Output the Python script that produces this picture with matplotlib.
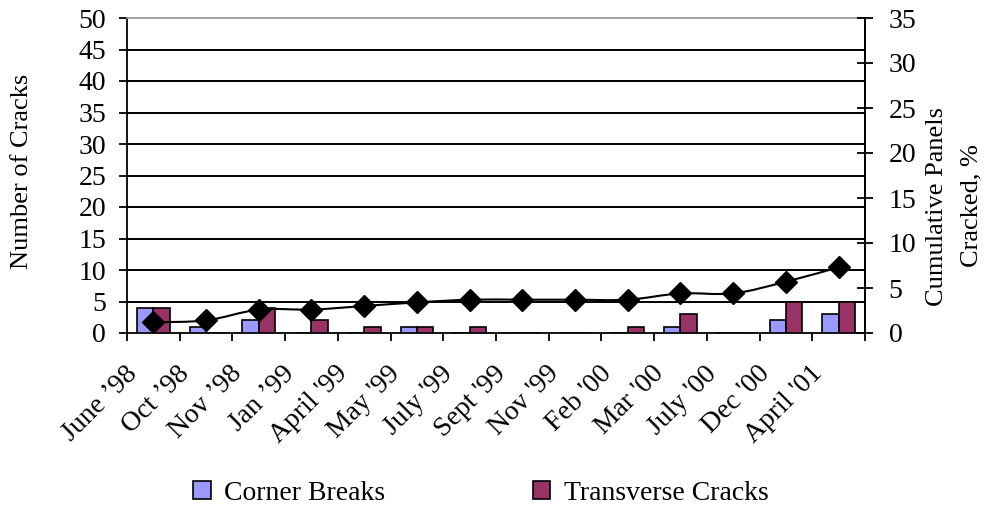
import matplotlib
matplotlib.use("Agg")
import matplotlib.pyplot as plt
import matplotlib.transforms as mtransforms
import numpy as np
from matplotlib.path import Path
from matplotlib.patches import PathPatch

plt.rcParams['font.family'] = ['Liberation Serif', 'DejaVu Serif']

months = ["June \u201998", "Oct \u201998", "Nov \u201998", "Jan \u201999", "April '99", "May '99",
          "July '99", "Sept '99", "Nov '99", "Feb '00", "Mar '00", "July '00", "Dec '00",
          "April '01"]
corner_breaks = [4, 1, 2, 0, 0, 1, 0, 0, 0, 0, 1, 0, 2, 3]
transverse_cracks = [4, 0, 4, 2, 1, 1, 1, 0, 0, 1, 3, 0, 5, 5]
cum_cracked_pct = [1.2, 1.4, 2.6, 2.6, 3.0, 3.4, 3.7, 3.7, 3.7, 3.7, 4.4, 4.4, 5.7, 7.3]

FS = 20
FS_LAB = 19
fig = plt.figure(figsize=(9.86, 5.08), dpi=100)
ax = fig.add_axes([127/986, 1-333/508, (865-127)/986, (333-18)/508])
ax2 = ax.twinx()

x = np.arange(len(months))
w = 0.31
ax.bar(x - w/2, corner_breaks, w, color='#9999FF', edgecolor='black', linewidth=1.2,
       label='Corner Breaks', zorder=3)
ax.bar(x + w/2, transverse_cracks, w, color='#993366', edgecolor='black', linewidth=1.2,
       label='Transverse Cracks', zorder=3)

ax.set_xlim(-0.5, len(months) - 0.5)
ax.set_ylim(0, 50)
ax.set_yticks(np.arange(0, 51, 5))
for yv in range(5, 50, 5):
    ax.axhline(yv, color='black', linewidth=1.4, zorder=1)

# ticks at category boundaries, labels placed at the boundary left of each category
ax.set_xticks(np.arange(len(months) + 1) - 0.5)
ax.set_xticklabels([])
lab_trans = ax.get_xaxis_transform() + mtransforms.ScaledTranslation(0.06, -0.37,
                                                                      fig.dpi_scale_trans)
for i, m in enumerate(months):
    ax.text(i - 0.5, 0, m, transform=lab_trans, rotation=45, ha='right', va='center',
            rotation_mode='anchor', fontsize=FS)
ax.tick_params(axis='x', direction='out', length=5.5, width=1.3)
ax.tick_params(axis='y', direction='out', length=6, width=1.3, pad=9, labelsize=FS)

for s in ['left', 'bottom', 'right']:
    ax.spines[s].set_linewidth(1.3)
ax.spines['top'].set_color('#999999')
ax.spines['top'].set_linewidth(1.3)

# smoothed line (bezier through data points)
ax2.set_ylim(0, 35)
ax2.set_yticks(np.arange(0, 36, 5))
ax2.tick_params(axis='y', direction='inout', length=12, width=1.3, pad=11, labelsize=FS)
ax2.spines['right'].set_linewidth(1.3)
ax2.spines['top'].set_visible(False)
ax2.spines['left'].set_visible(False)
ax2.spines['bottom'].set_visible(False)

px = list(x.astype(float))
py = list(cum_cracked_pct)
verts = [(px[0], py[0])]
codes = [Path.MOVETO]
n = len(px)
t = 1/6
for i in range(n - 1):
    p0 = (px[i-1], py[i-1]) if i > 0 else (px[i], py[i])
    p1 = (px[i], py[i])
    p2 = (px[i+1], py[i+1])
    p3 = (px[i+2], py[i+2]) if i + 2 < n else p2
    c1 = (p1[0] + (p2[0]-p0[0])*t, p1[1] + (p2[1]-p0[1])*t)
    c2 = (p2[0] - (p3[0]-p1[0])*t, p2[1] - (p3[1]-p1[1])*t)
    verts += [c1, c2, p2]
    codes += [Path.CURVE4]*3
ax2.add_patch(PathPatch(Path(verts, codes), facecolor='none', edgecolor='black',
                        linewidth=1.5, zorder=4))
ax2.plot(x, cum_cracked_pct, linestyle='none', marker='D', markersize=11,
         color='black', zorder=5)

fig.text(22/986, 1-171/508, 'Number of Cracks', rotation=90, ha='center', va='center',
         fontsize=FS_LAB)
fig.text(954/986, 1-206/508, 'Cumulative Panels\nCracked, %', rotation=90, ha='center',
         va='center', fontsize=FS_LAB, linespacing=1.75, multialignment='center')

handles, labels = ax.get_legend_handles_labels()
fig.legend(handles, labels, loc='center', bbox_to_anchor=(481/986, 1-493/508), ncol=2,
           frameon=False, fontsize=FS, handlelength=0.62, handleheight=0.62,
           handletextpad=0.5, columnspacing=5.3)

fig.savefig('out.png', dpi=100)
